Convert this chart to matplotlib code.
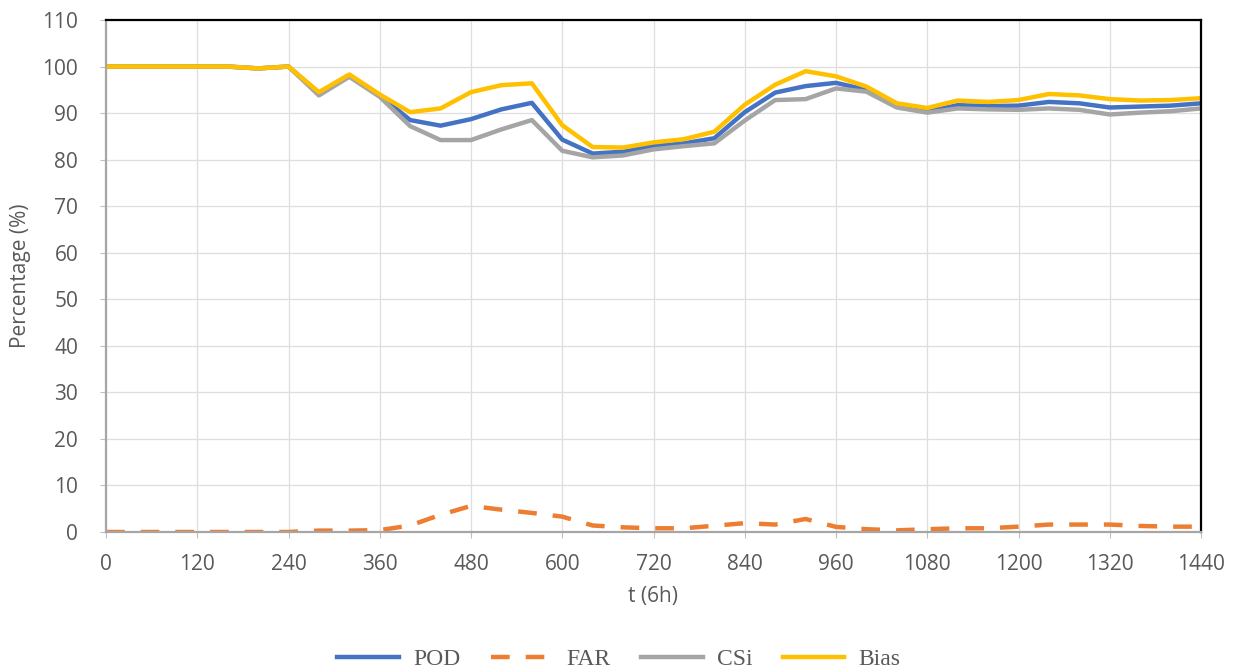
import matplotlib
matplotlib.use("Agg")
import matplotlib.pyplot as plt

# time steps (6h), one point every 40
t = list(range(0, 1441, 40))

pod = [100, 100, 100, 100, 100, 99.6, 100, 94.3, 98.1, 93.8, 88.5, 87.3, 88.7, 90.8, 92.2,
       84.3, 81.3, 81.7, 82.9, 83.5, 84.6, 90.2, 94.4, 95.8, 96.5, 95.0, 91.5, 90.4, 91.7,
       91.5, 91.6, 92.4, 92.1, 91.2, 91.4, 91.6, 92.1]
far = [0, 0, 0, 0, 0, 0, 0, 0.3, 0.3, 0.4, 1.4, 3.7, 5.6, 4.8, 4.1, 3.3, 1.4, 1.0, 0.8,
       0.8, 1.35, 1.9, 1.6, 2.8, 1.1, 0.6, 0.35, 0.6, 0.8, 0.8, 1.15, 1.6, 1.6, 1.6, 1.3,
       1.15, 1.15]
csi = [100, 100, 100, 100, 100, 99.6, 100, 93.8, 97.8, 93.5, 87.2, 84.2, 84.2, 86.5, 88.5,
       81.9, 80.5, 80.9, 82.2, 82.9, 83.5, 88.4, 92.8, 93.0, 95.3, 94.6, 91.2, 90.1, 91.0,
       90.8, 90.7, 91.0, 90.7, 89.7, 90.1, 90.4, 91.0]
bias = [100, 100, 100, 100, 100, 99.6, 100, 94.5, 98.3, 94.0, 90.2, 91.0, 94.5, 96.0, 96.4,
        87.4, 82.7, 82.6, 83.7, 84.4, 86.0, 91.8, 96.1, 99.0, 97.9, 95.7, 92.1, 91.1, 92.7,
        92.4, 92.8, 94.1, 93.8, 93.0, 92.7, 92.8, 93.2]

x_ticks = list(range(0, 1441, 120))
y_ticks = list(range(0, 111, 10))

text_color = "#595959"
sans = ["Open Sans", "DejaVu Sans"]

fig = plt.figure(figsize=(12.38, 6.69), dpi=100)
ax = fig.add_axes([106 / 1238, 137 / 669, 1095 / 1238, 512 / 669])

lw = 3.2
ax.plot(t, pod, color="#4472C4", lw=lw, label="POD", solid_joinstyle="round")
ax.plot(t, far, color="#ED7D31", lw=lw, label="FAR", dashes=(4.2, 3.6), dash_capstyle="butt")
ax.plot(t, csi, color="#A5A5A5", lw=lw, label="CSi", solid_joinstyle="round")
ax.plot(t, bias, color="#FFC000", lw=lw, label="Bias", solid_joinstyle="round")

ax.set_xlim(0, 1440)
ax.set_ylim(0, 110)
ax.set_xticks(x_ticks)
ax.set_yticks(y_ticks)
ax.grid(True, color="#dedede", lw=0.9)
ax.set_axisbelow(True)

for side in ["left", "bottom"]:
    ax.spines[side].set_color("#a6a6a6")
    ax.spines[side].set_linewidth(1.6)
for side in ["top", "right"]:
    ax.spines[side].set_color("black")
    ax.spines[side].set_linewidth(1.6)

ax.tick_params(axis="both", length=4, color="#bfbfbf", labelcolor=text_color, labelsize=15)
ax.tick_params(axis="y", pad=16)
ax.tick_params(axis="x", pad=12)
for lab in ax.get_xticklabels() + ax.get_yticklabels():
    lab.set_family(sans)

ax.set_xlabel("t (6h)", fontsize=15, color=text_color, family=sans, labelpad=8)
ax.set_ylabel("Percentage (%)", fontsize=15, color=text_color, family=sans, labelpad=8)

fig.legend(loc="center", bbox_to_anchor=(0.5, 10 / 669), ncol=4, frameon=False,
           handlelength=2.6, handletextpad=0.6, columnspacing=1.3,
           prop={"family": ["Liberation Serif", "DejaVu Serif"], "size": 17},
           labelcolor=text_color)

fig.savefig("out.png", dpi=100, facecolor="white")
